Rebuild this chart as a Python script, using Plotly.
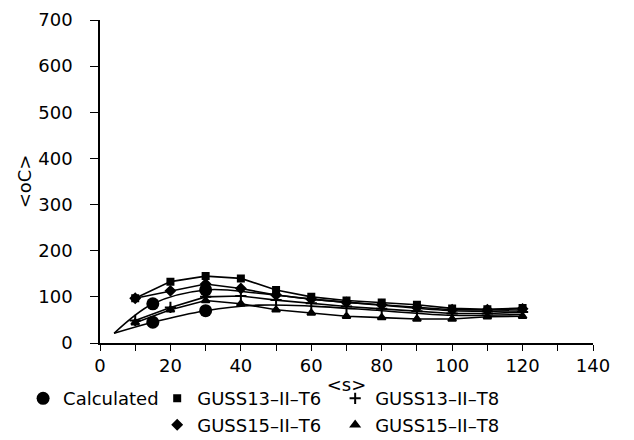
import plotly.graph_objects as go

# ---- data ----
x_meas = [10, 20, 30, 40, 50, 60, 70, 80, 90, 100, 110, 120]
guss13_t6 = [97, 133, 145, 140, 115, 100, 92, 88, 83, 75, 73, 76]
guss15_t6 = [97, 113, 128, 118, 104, 95, 88, 83, 77, 72, 72, 74]
guss13_t8 = [49, 77, 100, 102, 93, 86, 79, 74, 69, 64, 64, 67]
guss15_t8 = [44, 72, 92, 85, 72, 65, 58, 55, 52, 52, 57, 58]

calc_x = [4, 15, 30, 45, 60, 80, 100, 120]
calc_hi = [21, 85, 115, 108, 95, 82, 70, 70]
calc_lo = [21, 45, 70, 82, 80, 70, 60, 62]
calc_dot_x = [15, 30]

x_ticks = [0, 20, 40, 60, 80, 100, 120, 140]
y_ticks = [0, 100, 200, 300, 400, 500, 600, 700]

FONT = "DejaVu Sans, sans-serif"
fig = go.Figure()

# calculated curves (lines only)
for ys in (calc_hi, calc_lo):
    fig.add_trace(go.Scatter(x=calc_x, y=ys, mode="lines", line=dict(color="black", width=1.6, shape="spline"),
                             showlegend=False, hoverinfo="skip"))
# calculated dots
dx, dy = [], []
for ys in (calc_hi, calc_lo):
    for xv, yv in zip(calc_x, ys):
        if xv in calc_dot_x:
            dx.append(xv); dy.append(yv)
fig.add_trace(go.Scatter(x=dx, y=dy, mode="markers", name="Calculated",
                         marker=dict(symbol="circle", size=13, color="black"), legend="legend"))

series = [
    ("GUSS13–II–T6", guss13_t6, "square", 6, "legend2"),
    ("GUSS15–II–T6", guss15_t6, "diamond", 7, "legend2"),
    ("GUSS13–II–T8", guss13_t8, "cross-thin", 8, "legend3"),
    ("GUSS15–II–T8", guss15_t8, "triangle-up", 7, "legend3"),
]
for name, ys, sym, sz, lg in series:
    fig.add_trace(go.Scatter(x=x_meas, y=ys, mode="lines", line=dict(color="black", width=1.6),
                             showlegend=False, hoverinfo="skip"))
    fig.add_trace(go.Scatter(x=x_meas, y=ys, mode="markers", name=name,
                             marker=dict(symbol=sym, size=sz, color="black",
                                         line=dict(color="black", width=2)),
                             legend=lg))

leg_common = dict(font=dict(family=FONT, size=18, color="black"), bgcolor="rgba(0,0,0,0)",
                  orientation="v", tracegroupgap=0, yanchor="top", xanchor="left",
                  itemsizing="trace")
fig.update_layout(
    width=626, height=432,
    margin=dict(l=92, r=41, t=12, b=97, autoexpand=False),
    paper_bgcolor="white", plot_bgcolor="white",
    font=dict(family=FONT, size=18, color="black"),
    legend=dict(x=-0.156, y=-0.115, **leg_common),
    legend2=dict(x=0.116, y=-0.115, **leg_common),
    legend3=dict(x=0.477, y=-0.115, **leg_common),
    xaxis=dict(range=[0, 140], tickvals=x_ticks, showgrid=False, zeroline=False,
               showline=True, linecolor="black", linewidth=1.5,
               ticks="outside", ticklen=6, tickcolor="black", tickwidth=1.2,
               minor=dict(dtick=10, ticks="outside", ticklen=6, tickcolor="black"),
               tickfont=dict(family=FONT, size=18, color="black"),
               title=dict(text="&lt;s&gt;", font=dict(family=FONT, size=18), standoff=3)),
    yaxis=dict(range=[0, 700], tickvals=y_ticks, showgrid=False, zeroline=False,
               showline=True, linecolor="black", linewidth=1.5,
               ticks="outside", ticklen=8, tickcolor="black", tickwidth=1.2,
               ticklabelstandoff=14, ticklabeloverflow="allow",
               tickfont=dict(family=FONT, size=18, color="black"),
               title=dict(text="&lt;oC&gt;", font=dict(family=FONT, size=18), standoff=2)),
)
fig.write_html("out.html")
